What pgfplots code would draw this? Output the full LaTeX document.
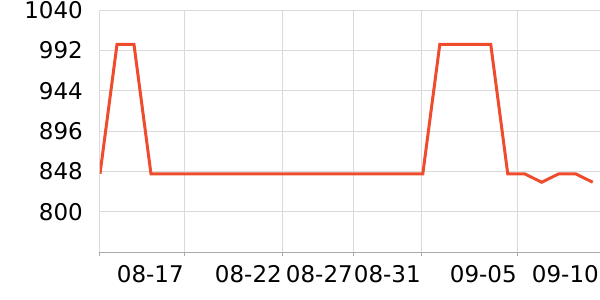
\documentclass[border=0pt]{standalone}
\usepackage{fontspec}
\setmainfont{DejaVu Sans}
\usepackage{pgfplots}
\pgfplotsset{compat=1.18}
\definecolor{linec}{RGB}{238,76,44}
\definecolor{gridc}{RGB}{218,218,218}
\definecolor{axisc}{RGB}{170,170,170}
\begin{document}
\begin{tikzpicture}
\begin{axis}[
  scale only axis, width=500pt, height=242pt,
  xmin=0, xmax=29.43, ymin=752, ymax=1040,
  axis x line=bottom, axis y line=left,
  axis line style={-},
  x axis line style={axisc, line width=1pt},
  y axis line style={gridc, line width=1pt},
  xtick={0,5,10.77,14.95,18.95,24.6,29.43},
  xticklabels={,08-17,08-22,08-27,08-31,09-05,09-10},
  ytick={800,848,896,944,992,1040},
  grid=major, grid style={gridc, line width=1pt},
  tick align=outside, major tick length=4pt,
  xtick style={axisc, line width=1pt}, ytick style={draw=none},
  xticklabel style={anchor=north east, inner sep=0pt, xshift=-1pt, yshift=-9pt},
  yticklabel style={anchor=east, inner sep=0pt, xshift=-13pt},
  tick label style={font=\fontsize{23}{28}\selectfont},
  /pgf/number format/assume math mode=true,
  /pgf/number format/1000 sep={},
]
\addplot[linec, line width=3pt, mark=none, line join=miter] coordinates {
(0,845) (1,999) (2,999) (3,845) (4,845) (5,845) (6,845) (7,845) (8,845) (9,845)
(10,845) (11,845) (12,845) (13,845) (14,845) (15,845) (16,845) (17,845) (18,845) (19,845)
(20,999) (21,999) (22,999) (23,999) (24,845) (25,845) (26,835) (27,845) (28,845) (29,835)
};
\end{axis}
\pgfresetboundingbox
\path[use as bounding box] (-100pt,-48pt) rectangle (500pt,252pt);
\end{tikzpicture}
\end{document}
